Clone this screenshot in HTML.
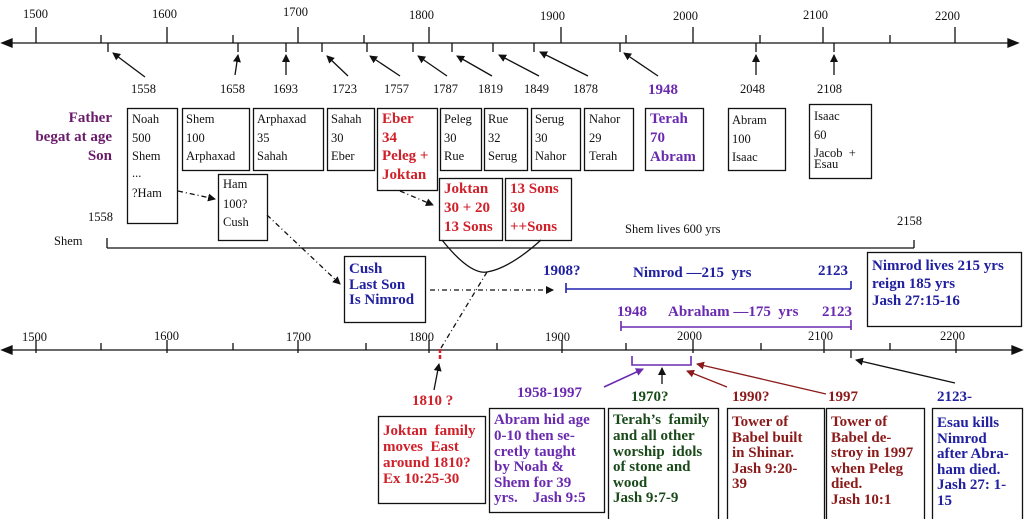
<!DOCTYPE html>
<html><head><meta charset="utf-8"><style>
html,body{margin:0;padding:0;background:#fff;}
svg{display:block;font-family:"Liberation Serif",serif;}
.n{font-size:12.5px;fill:#111;}
.b{font-size:15px;font-weight:bold;}
</style></head><body>
<svg width="1024" height="519" viewBox="0 0 1024 519" xmlns="http://www.w3.org/2000/svg">
<defs>
<marker id="a" markerWidth="8" markerHeight="8" refX="7" refY="4" orient="auto" markerUnits="userSpaceOnUse"><path d="M0,0 L8,4 L0,8 z" fill="#111"/></marker>
<marker id="ar" markerWidth="8" markerHeight="8" refX="7" refY="4" orient="auto" markerUnits="userSpaceOnUse"><path d="M0,0 L8,4 L0,8 z" fill="#8b1a1a"/></marker>
<marker id="ap" markerWidth="8" markerHeight="8" refX="7" refY="4" orient="auto" markerUnits="userSpaceOnUse"><path d="M0,0 L8,4 L0,8 z" fill="#6a2ab0"/></marker>
</defs>
<g stroke="#111" stroke-width="1.3" fill="none">
<line x1="4" y1="43" x2="1012" y2="43"/>
<path d="M2,43 L12,39 L12,47 z" fill="#111"/>
<path d="M1018,43 L1008,39 L1008,47 z" fill="#111"/>
<line x1="36" y1="27" x2="36" y2="43"/><line x1="167" y1="27" x2="167" y2="43"/><line x1="298" y1="27" x2="298" y2="43"/><line x1="429" y1="27" x2="429" y2="43"/><line x1="561" y1="27" x2="561" y2="43"/><line x1="693" y1="27" x2="693" y2="43"/><line x1="823" y1="27" x2="823" y2="43"/><line x1="955" y1="27" x2="955" y2="43"/>
<line x1="101" y1="35" x2="101" y2="43"/><line x1="233" y1="35" x2="233" y2="43"/><line x1="364" y1="35" x2="364" y2="43"/><line x1="626" y1="35" x2="626" y2="43"/><line x1="760" y1="35" x2="760" y2="43"/><line x1="890" y1="35" x2="890" y2="43"/>
<line x1="108" y1="43" x2="108" y2="52"/><line x1="238" y1="43" x2="238" y2="52"/><line x1="286" y1="43" x2="286" y2="52"/><line x1="322" y1="43" x2="322" y2="52"/><line x1="367" y1="43" x2="367" y2="52"/><line x1="413" y1="43" x2="413" y2="52"/><line x1="452" y1="43" x2="452" y2="52"/><line x1="493" y1="43" x2="493" y2="52"/><line x1="534" y1="43" x2="534" y2="52"/><line x1="620" y1="43" x2="620" y2="52"/><line x1="756" y1="43" x2="756" y2="52"/><line x1="834" y1="43" x2="834" y2="52"/>
<line x1="145" y1="77" x2="113" y2="53" marker-end="url(#a)"/>
<line x1="235" y1="75" x2="238" y2="55" marker-end="url(#a)"/>
<line x1="286" y1="75" x2="286" y2="55" marker-end="url(#a)"/>
<line x1="348" y1="76" x2="327" y2="56" marker-end="url(#a)"/>
<line x1="400" y1="76" x2="370" y2="56" marker-end="url(#a)"/>
<line x1="447" y1="76" x2="418" y2="56" marker-end="url(#a)"/>
<line x1="492" y1="76" x2="457" y2="56" marker-end="url(#a)"/>
<line x1="539" y1="76" x2="499" y2="55" marker-end="url(#a)"/>
<line x1="588" y1="76" x2="540" y2="52" marker-end="url(#a)"/>
<line x1="658" y1="76" x2="624" y2="53" marker-end="url(#a)"/>
<line x1="756" y1="75" x2="756" y2="55" marker-end="url(#a)"/>
<line x1="834" y1="75" x2="834" y2="55" marker-end="url(#a)"/>
<rect x="127.5" y="108.5" width="50" height="115"/>
<rect x="182.5" y="108.5" width="67" height="62"/>
<rect x="253.5" y="108.5" width="70" height="62"/>
<rect x="327.5" y="108.5" width="47" height="62"/>
<rect x="377.5" y="108.5" width="60" height="82"/>
<rect x="440.5" y="108.5" width="41" height="62"/>
<rect x="484.5" y="108.5" width="43" height="62"/>
<rect x="531.5" y="108.5" width="49" height="62"/>
<rect x="584.5" y="108.5" width="49" height="62"/>
<rect x="645.5" y="108.5" width="58" height="62"/>
<rect x="728.5" y="108.5" width="57" height="62"/>
<rect x="809.5" y="104.5" width="62" height="74"/>
<rect x="218.5" y="174.5" width="49" height="66"/>
<rect x="439.5" y="178.5" width="63" height="62"/>
<rect x="505.5" y="178.5" width="66" height="62"/>
<rect x="344.5" y="256.5" width="81" height="66"/>
<rect x="867.5" y="252.5" width="154" height="74"/>
<rect x="378.5" y="416.5" width="107" height="87"/>
<rect x="489.5" y="408.5" width="115" height="104"/>
<rect x="608.5" y="408.5" width="110" height="112"/>
<rect x="727.5" y="408.5" width="97" height="112"/>
<rect x="826.5" y="408.5" width="98" height="112"/>
<rect x="932.5" y="408.5" width="90" height="112"/>
<line x1="107" y1="248" x2="914" y2="248"/><line x1="107" y1="238" x2="107" y2="248"/><line x1="914" y1="240" x2="914" y2="248"/>
<path d="M442,240 Q470,275 487,272 Q510,268 541,240"/>
<g stroke-dasharray="5,3,1,3">
<line x1="178" y1="191" x2="215" y2="199" marker-end="url(#a)"/>
<line x1="267" y1="215" x2="340" y2="284" marker-end="url(#a)"/>
<line x1="400" y1="191" x2="433" y2="205" marker-end="url(#a)"/>
<line x1="430" y1="290" x2="553" y2="290" marker-end="url(#a)"/>
<line x1="487" y1="272" x2="441" y2="348"/>
</g>
<line x1="6" y1="350" x2="1014" y2="350"/>
<path d="M2,350 L12,346 L12,354 z" fill="#111"/>
<path d="M1022,350 L1012,346 L1012,354 z" fill="#111"/>
<line x1="36" y1="340" x2="36" y2="353"/><line x1="167" y1="340" x2="167" y2="353"/><line x1="298" y1="340" x2="298" y2="353"/><line x1="429" y1="340" x2="429" y2="353"/><line x1="562" y1="340" x2="562" y2="353"/><line x1="693" y1="340" x2="693" y2="353"/><line x1="824" y1="340" x2="824" y2="353"/><line x1="956" y1="340" x2="956" y2="353"/>
<line x1="101" y1="343" x2="101" y2="350"/><line x1="233" y1="343" x2="233" y2="350"/><line x1="366" y1="343" x2="366" y2="350"/><line x1="497" y1="343" x2="497" y2="350"/><line x1="626" y1="343" x2="626" y2="350"/><line x1="761" y1="343" x2="761" y2="350"/><line x1="890" y1="343" x2="890" y2="350"/>
<line x1="851" y1="350" x2="851" y2="358"/>
<line x1="434" y1="390" x2="439" y2="364" marker-end="url(#a)"/>
<line x1="662" y1="384" x2="662" y2="368" marker-end="url(#a)"/>
<line x1="955" y1="383" x2="856" y2="360" marker-end="url(#a)"/>
</g>
<line x1="440" y1="349" x2="440" y2="360" stroke="#d0202a" stroke-width="2.5" stroke-dasharray="4,2"/>
<g stroke="#2020b0" stroke-width="1.6"><line x1="566" y1="289" x2="851" y2="289"/><line x1="566" y1="283" x2="566" y2="293"/><line x1="851" y1="281" x2="851" y2="289"/></g>
<g stroke="#6a2ab0" stroke-width="1.6" fill="none"><line x1="621" y1="327" x2="851" y2="327"/><line x1="621" y1="321" x2="621" y2="331"/><line x1="851" y1="320" x2="851" y2="330"/>
<path d="M632,356 L632,365 L691,365 L691,356"/>
<line x1="604" y1="387" x2="643" y2="369" marker-end="url(#ap)"/></g>
<g stroke="#8b1a1a" stroke-width="1.3"><line x1="727" y1="387" x2="687" y2="371" marker-end="url(#ar)"/><line x1="826" y1="394" x2="697" y2="364" marker-end="url(#ar)"/></g>

<g class="n">
<text x="23" y="18">1500</text><text x="152" y="18">1600</text><text x="283" y="16">1700</text><text x="409" y="19">1800</text><text x="540" y="20">1900</text><text x="673" y="20">2000</text><text x="803" y="19">2100</text><text x="935" y="20">2200</text>
<text x="131" y="93">1558</text><text x="220" y="93">1658</text><text x="273" y="93">1693</text><text x="332" y="93">1723</text><text x="384" y="93">1757</text><text x="433" y="93">1787</text><text x="478" y="93">1819</text><text x="524" y="93">1849</text><text x="573" y="93">1878</text>
<text x="740" y="93">2048</text><text x="817" y="93">2108</text>
<text x="88" y="221">1558</text><text x="54" y="245">Shem</text><text x="897" y="225">2158</text><text x="625" y="233">Shem lives 600 yrs</text>
<text x="22" y="341">1500</text><text x="154" y="340">1600</text><text x="286" y="341">1700</text><text x="409" y="341">1800</text><text x="545" y="341">1900</text><text x="677" y="340">2000</text><text x="808" y="340">2100</text><text x="940" y="340">2200</text>
</g>
<text x="648" y="94" class="b" fill="#6a2ab0">1948</text>
<g class="b" fill="#6a1b6a" text-anchor="end"><text x="112" y="122">Father</text><text x="112" y="141">begat at age</text><text x="112" y="160">Son</text></g>
<g class="n">
<text x="132" y="123">Noah</text><text x="132" y="142">500</text><text x="132" y="160">Shem</text><text x="132" y="177">...</text><text x="132" y="197">?Ham</text>
<text x="186" y="123">Shem</text><text x="186" y="142">100</text><text x="186" y="160">Arphaxad</text>
<text x="257" y="123">Arphaxad</text><text x="257" y="142">35</text><text x="257" y="160">Sahah</text>
<text x="331" y="123">Sahah</text><text x="331" y="142">30</text><text x="331" y="160">Eber</text>
<text x="444" y="123">Peleg</text><text x="444" y="142">30</text><text x="444" y="160">Rue</text>
<text x="488" y="123">Rue</text><text x="488" y="142">32</text><text x="488" y="160">Serug</text>
<text x="535" y="123">Serug</text><text x="535" y="142">30</text><text x="535" y="160">Nahor</text>
<text x="589" y="123">Nahor</text><text x="589" y="142">29</text><text x="589" y="160">Terah</text>
<text x="732" y="124">Abram</text><text x="732" y="143">100</text><text x="732" y="161">Isaac</text>
<text x="814" y="120">Isaac</text><text x="814" y="139">60</text><text x="814" y="157">Jacob &#160;+</text><text x="814" y="168">Esau</text>
<text x="223" y="188">Ham</text><text x="223" y="208">100?</text><text x="223" y="226">Cush</text>
</g>
<g class="b" fill="#d0202a"><text x="382" y="123">Eber</text><text x="382" y="142">34</text><text x="382" y="160">Peleg +</text><text x="382" y="179">Joktan</text>
<text x="444" y="193">Joktan</text><text x="444" y="212">30 + 20</text><text x="444" y="231">13 Sons</text>
<text x="510" y="193">13 Sons</text><text x="510" y="212">30</text><text x="510" y="231">++Sons</text>
<text x="412" y="405">1810 ?</text>
<text x="383" y="435">Joktan &#160;family</text><text x="383" y="451">moves &#160;East</text><text x="383" y="467">around 1810?</text><text x="383" y="483">Ex 10:25-30</text></g>
<g class="b" fill="#6a2ab0"><text x="650" y="123">Terah</text><text x="650" y="142">70</text><text x="650" y="161">Abram</text>
<text x="617" y="316">1948</text><text x="668" y="316">Abraham —175 &#160;yrs</text><text x="822" y="316">2123</text>
<text x="517" y="397">1958-1997</text>
<text x="494" y="424">Abram hid age</text><text x="494" y="440">0-10 then se-</text><text x="494" y="456">cretly taught</text><text x="494" y="471">by Noah &amp;</text><text x="494" y="487">Shem for 39</text><text x="494" y="502">yrs. &#160;&#160; Jash 9:5</text></g>
<g class="b" fill="#2020a0"><text x="349" y="273">Cush</text><text x="349" y="289">Last Son</text><text x="349" y="304">Is Nimrod</text>
<text x="543" y="275">1908?</text><text x="633" y="277">Nimrod —215 &#160;yrs</text><text x="818" y="275">2123</text>
<text x="872" y="270">Nimrod lives 215 yrs</text><text x="872" y="288">reign 185 yrs</text><text x="872" y="305">Jash 27:15-16</text>
<text x="937" y="401">2123-</text>
<text x="937" y="427">Esau kills</text><text x="937" y="443">Nimrod</text><text x="937" y="458">after Abra-</text><text x="937" y="474">ham died.</text><text x="937" y="489">Jash 27: 1-</text><text x="937" y="505">15</text></g>
<g class="b" fill="#1a4a1a"><text x="631" y="401">1970?</text>
<text x="613" y="424">Terah’s &#160;family</text><text x="613" y="440">and all other</text><text x="613" y="456">worship &#160;idols</text><text x="613" y="471">of stone and</text><text x="613" y="487">wood</text><text x="613" y="502">Jash 9:7-9</text></g>
<g class="b" fill="#8b1a1a"><text x="732" y="401">1990?</text><text x="828" y="401">1997</text>
<text x="732" y="426">Tower of</text><text x="732" y="442">Babel built</text><text x="732" y="457">in Shinar.</text><text x="732" y="473">Jash 9:20-</text><text x="732" y="488">39</text>
<text x="831" y="426">Tower of</text><text x="831" y="442">Babel de-</text><text x="831" y="457">stroy in 1997</text><text x="831" y="473">when Peleg</text><text x="831" y="488">died.</text><text x="831" y="504">Jash 10:1</text></g>
</svg>
</body></html>
